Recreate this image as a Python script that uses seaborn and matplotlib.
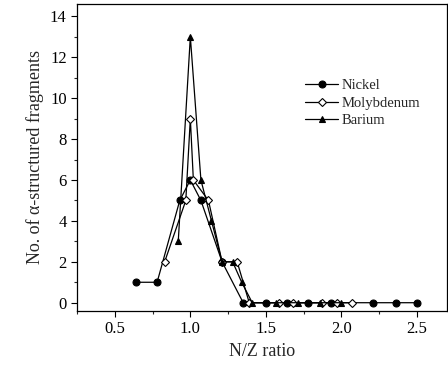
import numpy as np
import pandas as pd
import matplotlib
matplotlib.use("Agg")
import matplotlib.pyplot as plt
import seaborn as sns
from matplotlib.ticker import MultipleLocator

# N/Z ratio vs number of alpha-structured fragments
nickel_x = [0.64, 0.78, 0.93, 1.00, 1.07, 1.21, 1.35, 1.50, 1.64, 1.78, 1.93, 2.21, 2.36, 2.50]
nickel_y = [1, 1, 5, 6, 5, 2, 0, 0, 0, 0, 0, 0, 0, 0]

moly_x = [0.83, 0.97, 1.00, 1.02, 1.12, 1.21, 1.31, 1.39, 1.59, 1.68, 1.87, 1.97, 2.07]
moly_y = [2, 5, 9, 6, 5, 2, 2, 0, 0, 0, 0, 0, 0]

barium_x = [0.92, 1.00, 1.07, 1.14, 1.21, 1.28, 1.34, 1.41, 1.57, 1.71, 1.86, 2.00]
barium_y = [3, 13, 6, 4, 2, 2, 1, 0, 0, 0, 0, 0]

sns.set_style("ticks")
plt.rcParams["font.family"] = ["Liberation Serif", "DejaVu Serif"]

fig = plt.figure(figsize=(4.48, 3.71), dpi=100)
ax = fig.add_axes([0.172, 0.162, 0.826, 0.827])

series = [
    ("Nickel", nickel_x, nickel_y, "o", "black"),
    ("Molybdenum", moly_x, moly_y, "D", "white"),
    ("Barium", barium_x, barium_y, "^", "black"),
]
for name, xs, ys, mk, fc in series:
    df = pd.DataFrame({"x": xs, "y": ys})
    sns.lineplot(data=df, x="x", y="y", sort=False, ax=ax, color="black",
                 linewidth=0.9, marker=mk, markersize=5 if mk != "D" else 4.2,
                 markerfacecolor=fc, markeredgecolor="black", markeredgewidth=0.8,
                 label=name)

ax.set_xlim(0.25, 2.7)
ax.set_ylim(-0.4, 14.6)
ax.xaxis.set_major_locator(MultipleLocator(0.5))
ax.xaxis.set_minor_locator(MultipleLocator(0.25))
ax.yaxis.set_major_locator(MultipleLocator(2))
ax.yaxis.set_minor_locator(MultipleLocator(1))
ax.tick_params(axis="both", which="major", direction="out", length=4, width=0.8,
               labelsize=12, colors="black")
ax.tick_params(axis="both", which="minor", direction="out", length=2, width=0.8)
for s in ax.spines.values():
    s.set_linewidth(0.9)
    s.set_color("black")

ax.set_xlabel("N/Z ratio", fontsize=13)
ax.set_ylabel("No. of α-structured fragments", fontsize=13)

ax.legend(loc="upper left", bbox_to_anchor=(0.6, 0.775), frameon=False,
          fontsize=10.5, handlelength=2.3, handletextpad=0.2, labelspacing=0.3,
          borderaxespad=0)

fig.savefig("out.png", dpi=100)
